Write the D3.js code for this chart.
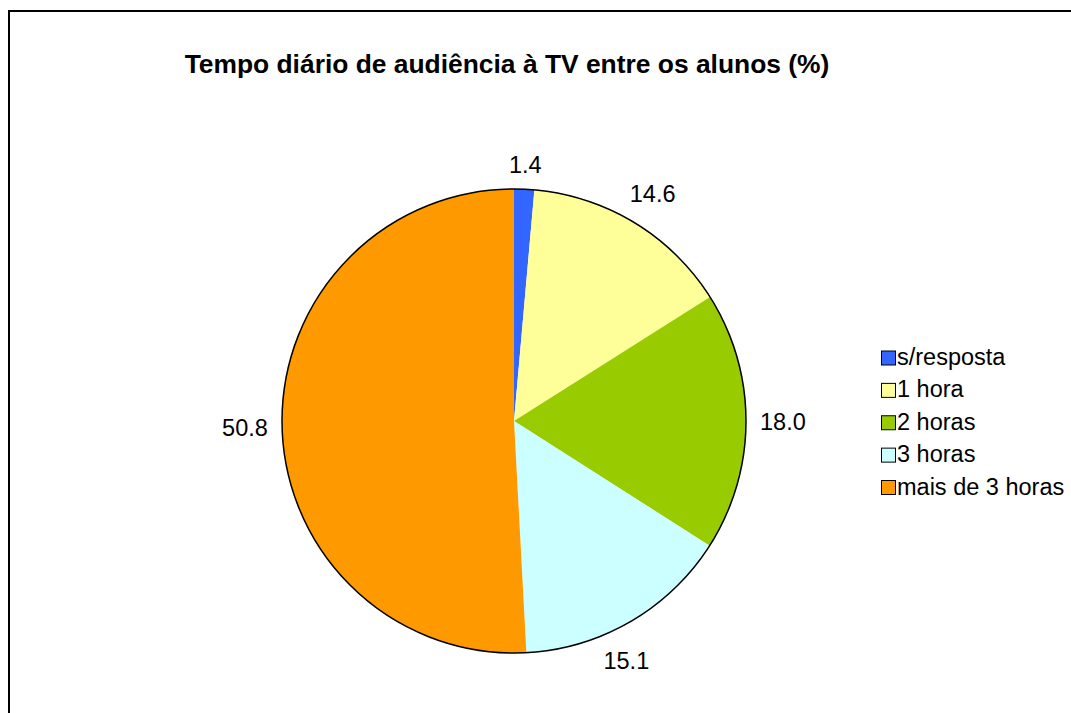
<!DOCTYPE html>
<html>
<head>
<meta charset="utf-8">
<script src="https://cdn.jsdelivr.net/npm/d3@7"></script>
<style>
  body { margin: 0; background: #fff; }
  svg { display: block; font-family: Arial, "Liberation Sans", sans-serif; }
</style>
</head>
<body>
<div id="container"></div>
<script>
/**
 * CONSTANTS AND DATA
 * */
const width = 1071,
  height = 713;

const title = "Tempo diário de audiência à TV entre os alunos (%)";
const categories = ["s/resposta", "1 hora", "2 horas", "3 horas", "mais de 3 horas"];
const values = [1.4, 14.6, 18.0, 15.1, 50.8];
const colors = ["#3366FF", "#FFFF99", "#99CC00", "#CCFFFF", "#FF9900"];

const cx = 514, cy = 421, radius = 232;

const svg = d3.select("#container")
  .append("svg")
  .attr("width", width)
  .attr("height", height);

// outer frame (runs off right & bottom edges)
svg.append("rect")
  .attr("x", 9)
  .attr("y", 11)
  .attr("width", 1100)
  .attr("height", 760)
  .attr("fill", "#fff")
  .attr("stroke", "#000")
  .attr("stroke-width", 2);

svg.append("text")
  .attr("x", 507)
  .attr("y", 73)
  .attr("text-anchor", "middle")
  .attr("font-weight", "bold")
  .attr("font-size", 26.4)
  .text(title);

const data = categories.map((c, i) => ({ cat: c, value: values[i], color: colors[i] }));

const pie = d3.pie()
  .value(d => d.value)
  .sort(null);

const arc = d3.arc()
  .innerRadius(0)
  .outerRadius(radius);

const g = svg.append("g")
  .attr("transform", `translate(${cx},${cy})`);

const arcs = pie(data);

g.selectAll("path.slice")
  .data(arcs)
  .join("path")
  .attr("class", "slice")
  .attr("d", arc)
  .attr("fill", d => d.data.color);

g.append("circle")
  .attr("r", radius)
  .attr("fill", "none")
  .attr("stroke", "#000")
  .attr("stroke-width", 1.5);

// value labels outside the pie
const labelSize = 23.5;
const labels = g.selectAll("text.label")
  .data(arcs)
  .join("text")
  .attr("class", "label")
  .attr("font-size", labelSize)
  .attr("text-anchor", "middle")
  .attr("dy", "0.35em")
  .text(d => d.data.value.toFixed(1));

labels.each(function(d) {
  // labels in the lower half sit a bit further round, like Excel does
  let a = (d.startAngle + d.endAngle) / 2;
  if (Math.cos(a) < -0.5) a += 0.09 * Math.sign(Math.sin(a));
  const hw = this.getComputedTextLength() / 2;
  const hh = 10;
  const rr = radius + 14 + hw * Math.abs(Math.sin(a)) + hh * Math.abs(Math.cos(a));
  d3.select(this)
    .attr("x", rr * Math.sin(a))
    .attr("y", -rr * Math.cos(a));
});

// legend
const legendY = d3.scalePoint()
  .domain(categories)
  .range([357.5, 487]);

const legend = svg.selectAll("g.legend")
  .data(data)
  .join("g")
  .attr("class", "legend")
  .attr("transform", d => `translate(881,${legendY(d.cat)})`);

legend.append("rect")
  .attr("x", 0.5)
  .attr("y", -6.5)
  .attr("width", 14)
  .attr("height", 14)
  .attr("fill", d => d.color)
  .attr("stroke", "#000")
  .attr("stroke-width", 1);

legend.append("text")
  .attr("x", 16)
  .attr("y", 7.5)
  .attr("font-size", labelSize)
  .text(d => d.cat);
</script>
</body>
</html>
